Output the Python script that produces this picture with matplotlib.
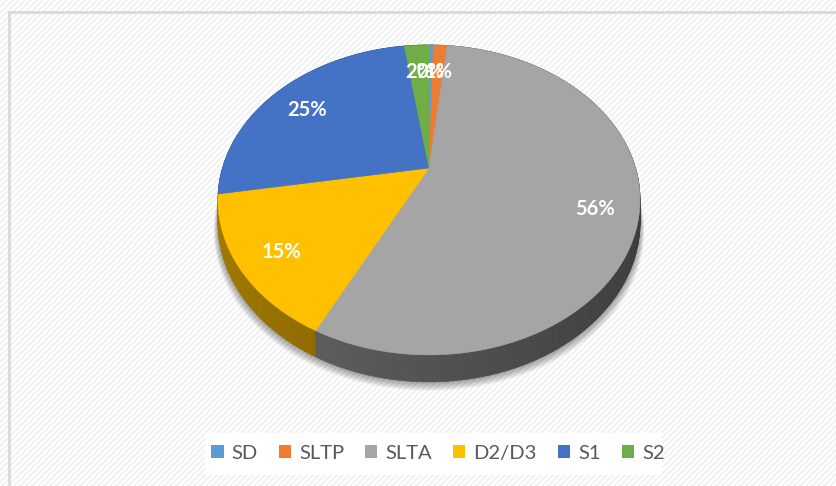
import numpy as np
import matplotlib
matplotlib.use("Agg")
import matplotlib.pyplot as plt
from matplotlib.patches import Polygon, Patch

plt.rcParams['font.family'] = ['Lato', 'DejaVu Sans']

# data
categories = ["SD", "SLTP", "SLTA", "D2/D3", "S1", "S2"]
values = [0.4, 1.3, 55.7, 14.9, 25.4, 2.3]
colors = ["#5B9BD5", "#ED7D31", "#A5A5A5", "#FFC000", "#4472C4", "#70AD47"]

# 3d pie geometry (pixels)
cx, cy = 429, 168
A, B = 206.5, 148.4
k = 0.206
D = 21.4


def proj(theta, r=1.0, z=0.0):
    t = np.radians(theta)
    u = r * np.sin(t)
    v = r * np.cos(t)
    w = 1 + k * v
    return cx + A * u / w, cy - B * v / w + D * z / w


W, H = 836, 486
fig = plt.figure(figsize=(W / 100, H / 100), dpi=100)

ax = fig.add_axes([0, 0, 1, 1])
ax.axis("off")

# striped background
yy, xx = np.mgrid[0:H, 0:W]
stripe = ((xx + yy) % 6) < 3
bg = np.ones((H, W, 3))
bg[stripe] = 0.95
ax.imshow(bg, extent=(0, W, H, 0), interpolation="nearest", zorder=0)
ax.set_xlim(0, W)
ax.set_ylim(H, 0)
ax.set_aspect("auto")

# frame lines (left and top only visible)
ax.plot([9, 9], [12, H], color="#d9d9d9", lw=2, zorder=1)
ax.plot([9, W], [12, 12], color="#d9d9d9", lw=2, zorder=1)

total = sum(values)
fracs = [v / total for v in values]
starts = np.cumsum([0] + fracs[:-1]) * 360
ends = np.cumsum(fracs) * 360

# soft shadow under the pie
ang = np.linspace(0, 360, 361)
bx, by = proj(ang, 1.0, 1.0)
for d in range(1, 11):
    ax.add_patch(Polygon(np.column_stack([cx + (bx - cx) * (1 + d * 0.002), by + d * 0.9]),
                         closed=True, fc="black", ec="none", alpha=0.04, zorder=2))


def shade(hexcol, f):
    c = np.array(matplotlib.colors.to_rgb(hexcol))
    return tuple(np.clip(c * f, 0, 1))


# side wall in small pieces, far ones first
quads = []
for s, e, col in zip(starts, ends, colors):
    n = max(2, int(np.ceil((e - s) / 1.0)))
    ts = np.linspace(s, e, n + 1)
    for t0, t1 in zip(ts[:-1], ts[1:]):
        tm = 0.5 * (t0 + t1)
        x0, y0 = proj(t0)
        x1, y1 = proj(t1)
        x2, y2 = proj(t1, 1, 1)
        x3, y3 = proj(t0, 1, 1)
        f = 0.5 + 0.14 * (-np.sin(np.radians(tm)))
        quads.append((np.cos(np.radians(tm)),
                      [(x0, y0), (x1, y1), (x2, y2), (x3, y3)], shade(col, f)))
quads.sort(key=lambda q: -q[0])
for _, pts, c in quads:
    ax.add_patch(Polygon(pts, closed=True, fc=c, ec=c, lw=0.5, zorder=3))

# top faces
for s, e, col in zip(starts, ends, colors):
    ts = np.linspace(s, e, max(2, int((e - s) * 2)) + 1)
    px, py = proj(ts)
    pts = np.vstack([[cx, cy], np.column_stack([px, py])])
    ax.add_patch(Polygon(pts, closed=True, fc=col, ec=col, lw=0.4, zorder=4))

# labels
for s, e, v in zip(starts, ends, values):
    lx, ly = proj(0.5 * (s + e), 0.8, 0)
    ax.text(lx, ly + 6, "%d%%" % round(v), color="white", fontsize=14.5,
            fontweight="bold", ha="center", va="center", zorder=6)

# legend
ax.add_patch(plt.Rectangle((205, 433), 457, 42, fc="white", ec="none", zorder=1))
handles = [Patch(facecolor=c, edgecolor="none", label=n) for n, c in zip(categories, colors)]
leg = ax.legend(handles=handles, loc="center", bbox_to_anchor=(438 / W, 1 - 453 / H),
                ncol=6, frameon=False, fontsize=14.5, handlelength=0.6, handleheight=0.6,
                handletextpad=0.4, columnspacing=1.05, borderpad=0)
for t in leg.get_texts():
    t.set_color("#595959")

fig.savefig("out.png", dpi=100)
